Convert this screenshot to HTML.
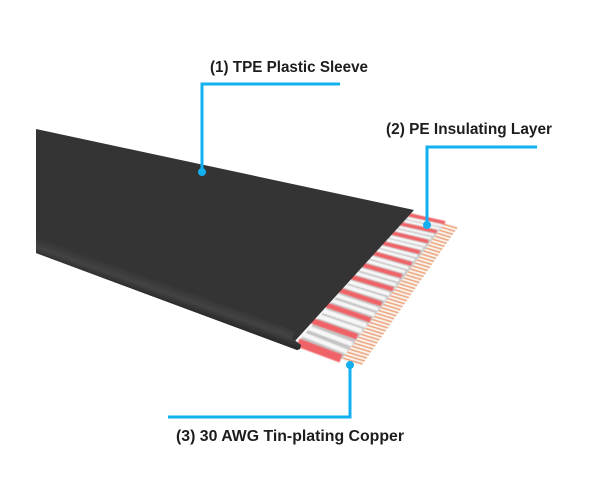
<!DOCTYPE html>
<html><head><meta charset="utf-8"><style>html,body{margin:0;padding:0;background:#fff}svg{display:block}text{font-family:"Liberation Sans",sans-serif;font-weight:700;font-size:16px;fill:#1d1d1d}</style></head><body>
<svg width="600" height="500" viewBox="0 0 600 500" xmlns="http://www.w3.org/2000/svg">
<defs>
<pattern id="cu" width="6" height="3.5" patternUnits="userSpaceOnUse" patternTransform="rotate(17 400 290)">
<rect width="6" height="3.5" fill="#fbf2ec"/><rect width="6" height="1.6" fill="#ecaa86"/>
</pattern>
<linearGradient id="edge" gradientUnits="userSpaceOnUse" x1="170" y1="303" x2="176" y2="286">
<stop offset="0" stop-color="#2b2b2b"/><stop offset=".45" stop-color="#434343"/><stop offset="1" stop-color="#343434"/>
</linearGradient>
<filter id="soft" x="-5%" y="-5%" width="110%" height="110%"><feGaussianBlur stdDeviation="0.45"/></filter>
</defs>
<polygon points="445,222.7 458,227 362,365 341.7,359.3" fill="url(#cu)"/>
<g filter="url(#soft)">
<polygon points="408,212 445,222.7 341.7,359.3 298,342" fill="#c4c4c4"/>
<g fill="none" stroke="#f7f7f7" stroke-linecap="butt">
<g stroke-width="2.4"><path d="M407.7 218.2L442.2 225.7M404.7 221.1L439.5 228.7M398.9 227.1L433.9 235M396.1 230.2L431.1 238.4"/></g>
<g stroke-width="2.8"><path d="M390.2 236.6L425.5 245.2M387.1 240L422.8 248.8M380.8 246.6L417.2 256.2M377.5 250L414.5 260.1"/></g>
<g stroke-width="3.2"><path d="M370.6 257.2L408.4 268M367 261.1L405 272M359.8 269.1L398.9 280.4M356.2 273.2L396.1 284.9"/></g>
<g stroke-width="3.8"><path d="M348.2 281.5L389.4 294.2M343.8 285.8L385.6 299.1M334.9 295L378 309.3M330.4 300L374.4 314.7"/></g>
<g stroke-width="4.6"><path d="M321.2 310.2L366.2 325.6M316.5 315.5L361.8 331.1M306.5 327.1L352.1 344.2M301.2 333.6L346.9 351.8"/></g>
</g>
<g fill="none" stroke="#ef6468">
<path stroke-width="3.6" d="M405 214L445 222.7"/>
<path stroke-width="3.6" d="M396 222.8L436.7 231.7"/>
<path stroke-width="3.8" d="M388 232L428.3 241.7"/>
<path stroke-width="4" d="M378 241.8L420 252.3"/>
<path stroke-width="4.2" d="M368 251.5L411.7 264"/>
<path stroke-width="4.4" d="M358 263.5L401.7 276"/>
<path stroke-width="4.6" d="M348 276L393.3 289.3"/>
<path stroke-width="5" d="M335 288.5L381.7 304"/>
<path stroke-width="5.4" d="M322 303.5L370.7 320"/>
<path stroke-width="6" d="M307 319L357.3 336.7"/>
<path stroke-width="8.5" d="M298 342.5L341 358.5"/>
</g>
</g>
<polygon points="36,129 414,210 295,341 301,345 300,349 297,350 36,253" fill="#343434"/>
<polygon points="36,236 295,331 292,338 301,345 300,349 297,350 36,253" fill="url(#edge)"/>
<g fill="none" stroke="#12b0f0" stroke-width="3">
<path d="M340 84H202V171"/><path d="M537 147H427V225"/><path d="M168 417H350V364"/>
</g>
<g fill="#12b0f0"><circle cx="202" cy="172" r="4"/><circle cx="427" cy="225" r="4"/><circle cx="350" cy="365" r="4"/></g>
<text x="210" y="72" textLength="158" lengthAdjust="spacingAndGlyphs">(1) TPE Plastic Sleeve</text>
<text x="386" y="134" textLength="166" lengthAdjust="spacingAndGlyphs">(2) PE Insulating Layer</text>
<text x="176" y="441" textLength="228" lengthAdjust="spacingAndGlyphs">(3) 30 AWG Tin-plating Copper</text>
</svg>
</body></html>
